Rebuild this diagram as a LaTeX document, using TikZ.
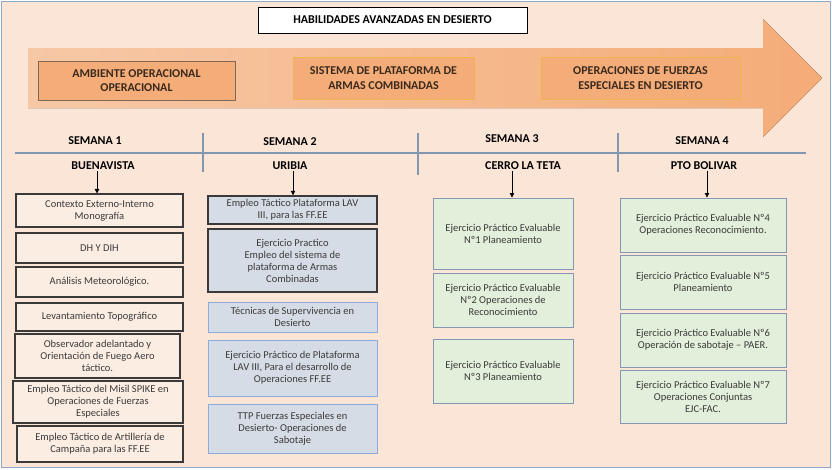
\documentclass[tikz,border=0pt]{standalone}
\usepackage{fontspec}
\setmainfont{Carlito}
\usetikzlibrary{arrows.meta}
\definecolor{fondo}{HTML}{FBE5D6}
\definecolor{marcoazul}{HTML}{8EA8C8}
\definecolor{flechaclara}{HTML}{F7C8A6}
\definecolor{flechanaranja}{HTML}{F4AC78}
\definecolor{bordecafe}{HTML}{7F6655}
\definecolor{bordeoro}{HTML}{EDB450}
\definecolor{textocafe}{HTML}{3A2A1E}
\definecolor{textogris}{HTML}{3A3A3A}
\definecolor{cajaazul}{HTML}{D6DCE5}
\definecolor{bordeazul}{HTML}{8FAADC}
\definecolor{cajaverde}{HTML}{E2EFDA}
\definecolor{bordeverde}{HTML}{8497B0}
\tikzset{
    caja/.style={draw, align=center, inner sep=1pt, text=textogris, font=\fontsize{10.5}{12}\selectfont},
    semuno/.style={caja, fill=fondo!70!white, draw=textogris, line width=1.1pt},
    semdos/.style={caja, fill=cajaazul, draw=bordeazul, line width=1pt},
    semdosfuerte/.style={caja, fill=cajaazul, draw=textogris, line width=1.5pt},
    semverde/.style={caja, fill=cajaverde, draw=bordeverde, line width=1pt},
    etapa/.style={draw=bordeoro, fill=flechanaranja, line width=1pt, align=center, text=textocafe, font=\fontsize{12}{14.5}\selectfont\bfseries},
    cabecera/.style={inner sep=1pt, font=\fontsize{12}{14}\selectfont\bfseries},
    separador/.style={draw=bordeverde, line width=1.2pt},
    bajada/.style={-{Triangle[width=4.5pt,length=4.5pt]}, line width=0.8pt}
}
\begin{document}
\begin{tikzpicture}[x=1pt,y=-1pt]
                \useasboundingbox (0,0) rectangle (832,469);
                \draw[draw=marcoazul, fill=fondo, line width=1.5pt] (1.5,1.5) rectangle (830.5,467.5);
                \fill[left color=flechaclara, right color=flechanaranja] (28,48) -- (763,48) -- (763,19) -- (822,78) -- (763,137) -- (763,108) -- (28,108) -- cycle;
                \node[draw, fill=white, line width=0.8pt, minimum width=269pt, minimum height=26pt, font=\fontsize{12}{14}\selectfont\bfseries] (titulo) at (392.5,20) {HABILIDADES AVANZADAS EN DESIERTO};
                \node[etapa, draw=bordecafe, minimum width=197pt, minimum height=39pt] (ambiente) at (136.5,80.5) {AMBIENTE OPERACIONAL\\OPERACIONAL};
                \node[etapa, minimum width=181pt, minimum height=42pt] (sistema) at (383.5,78) {SISTEMA DE PLATAFORMA DE\\ARMAS COMBINADAS};
                \node[etapa, minimum width=199pt, minimum height=42pt] (operaciones) at (640.5,78) {OPERACIONES DE FUERZAS\\ESPECIALES EN DESIERTO};

                \draw[separador] (15,153) -- (806,153);
                \draw[separador] (203,133) -- (203,172);
                \draw[separador] (418,133) -- (418,175);
                \draw[separador] (618,133) -- (618,172);

                \node[cabecera] (semana1) at (95,141) {SEMANA 1};
                \node[cabecera] (semana2) at (290,142) {SEMANA 2};
                \node[cabecera] (semana3) at (512,139) {SEMANA 3};
                \node[cabecera] (semana4) at (702,141) {SEMANA 4};
                \node[cabecera] (buenavista) at (103,166) {BUENAVISTA};
                \node[cabecera] (uribia) at (290,166) {URIBIA};
                \node[cabecera] (cerro) at (523,166) {CERRO LA TETA};
                \node[cabecera] (ptobolivar) at (704,166) {PTO BOLIVAR};

                \node[semuno, minimum width=167pt, minimum height=33pt] (s1a) at (99.5,210.5) {Contexto Externo-Interno\\Monografía};
                \node[semuno, minimum width=167pt, minimum height=30pt] (s1b) at (99.5,248) {DH Y DIH};
                \node[semuno, minimum width=167pt, minimum height=30pt] (s1c) at (99.5,282) {Análisis Meteorológico.};
                \node[semuno, minimum width=167pt, minimum height=28pt] (s1d) at (99.5,317) {Levantamiento Topográfico};
                \node[semuno, minimum width=165pt, minimum height=44pt] (s1e) at (97.5,356) {Observador adelantado y\\Orientación de Fuego Aero\\táctico.};
                \node[semuno, minimum width=170pt, minimum height=42pt] (s1f) at (98,402) {Empleo Táctico del Misil SPIKE en\\Operaciones de Fuerzas\\Especiales};
                \node[semuno, minimum width=166pt, minimum height=36pt] (s1g) at (100,444) {Empleo Táctico de Artillería de\\Campaña para las FF.EE};

                \node[semdosfuerte, minimum width=169pt, minimum height=28pt] (s2a) at (292.5,210) {Empleo Táctico Plataforma LAV\\III, para las FF.EE};
                \node[semdosfuerte, minimum width=169pt, minimum height=63pt] (s2b) at (292.5,260.5) {Ejercicio Practico\\Empleo del sistema de\\plataforma de Armas\\Combinadas};
                \node[semdos, minimum width=169pt, minimum height=30pt] (s2c) at (292.5,317) {Técnicas de Supervivencia en\\Desierto};
                \node[semdos, minimum width=169pt, minimum height=56pt] (s2d) at (292.5,368) {Ejercicio Práctico de Plataforma\\LAV III, Para el desarrollo de\\Operaciones FF.EE};
                \node[semdos, minimum width=169pt, minimum height=49pt] (s2e) at (292.5,428.5) {TTP Fuerzas Especiales en\\Desierto- Operaciones de\\Sabotaje};

                \node[semverde, minimum width=140pt, minimum height=71pt] (s3a) at (503,233.5) {Ejercicio Práctico Evaluable\\Nº1 Planeamiento};
                \node[semverde, minimum width=140pt, minimum height=54pt] (s3b) at (503,300) {Ejercicio Práctico Evaluable\\Nº2 Operaciones de\\Reconocimiento};
                \node[semverde, minimum width=140pt, minimum height=64pt] (s3c) at (503,371) {Ejercicio Práctico Evaluable\\Nº3 Planeamiento};

                \node[semverde, minimum width=166pt, minimum height=54pt] (s4a) at (703,225) {Ejercicio Práctico Evaluable Nº4\\Operaciones Reconocimiento.};
                \node[semverde, minimum width=166pt, minimum height=54pt] (s4b) at (703,282) {Ejercicio Práctico Evaluable Nº5\\Planeamiento};
                \node[semverde, minimum width=166pt, minimum height=54pt] (s4c) at (703,340) {Ejercicio Práctico Evaluable Nº6\\Operación de sabotaje – PAER.};
                \node[semverde, minimum width=166pt, minimum height=53pt] (s4d) at (703,396.5) {Ejercicio Práctico Evaluable Nº7\\Operaciones Conjuntas\\EJC-FAC.};

                \draw[bajada] ([xshift=-6pt]buenavista.south) -- ([xshift=-6pt]buenavista.south |- s1a.north);
                \draw[bajada] ([xshift=3pt]uribia.south) -- ([xshift=3pt]uribia.south |- s2a.north);
                \draw[bajada] ([xshift=-11pt]cerro.south) -- ([xshift=-11pt]cerro.south |- s3a.north);
                \draw[bajada] ([xshift=3pt]ptobolivar.south) -- ([xshift=3pt]ptobolivar.south |- s4a.north);
            \end{tikzpicture}
\end{document}
